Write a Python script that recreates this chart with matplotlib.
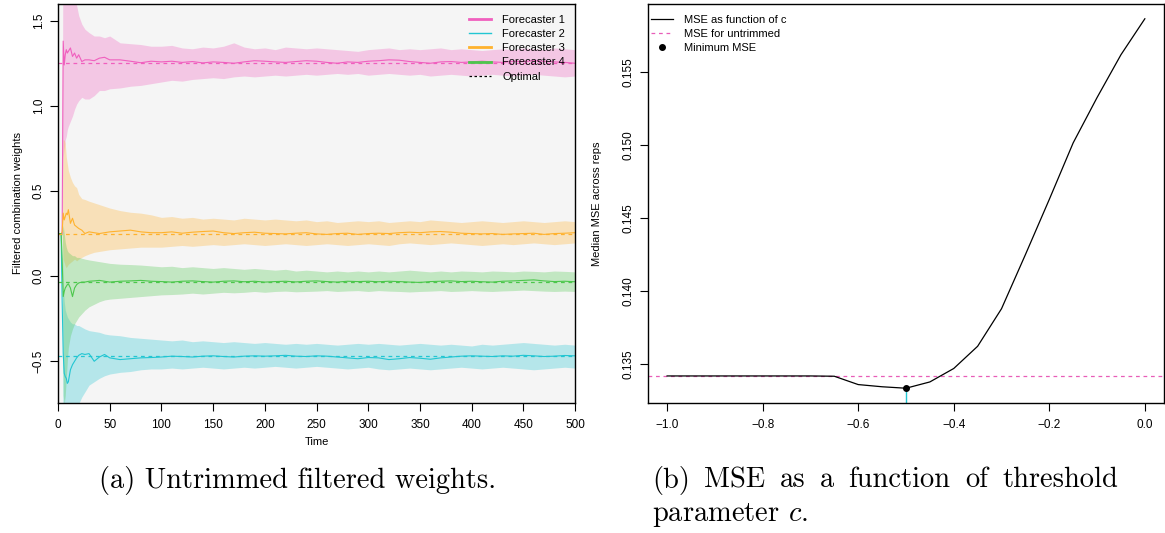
import numpy as np
import matplotlib
matplotlib.use('Agg')
import matplotlib.pyplot as plt
from matplotlib.lines import Line2D

plt.rcParams['font.family'] = ['Liberation Sans', 'DejaVu Sans']
plt.rcParams['mathtext.fontset'] = 'cm'

# ---- panel (a): filtered weights over time ----
time_pts = [1, 3, 4, 5, 6, 7, 8, 9, 10, 12, 14, 16, 18, 20, 23, 26, 30, 35, 40, 45, 50, 60, 70, 80, 90,
            100, 110, 120, 130, 140, 150, 160, 170, 180, 190, 200, 210, 220, 230, 240, 250, 260, 270,
            280, 290, 300, 310, 320, 330, 340, 350, 360, 370, 380, 390, 400, 410, 420, 430, 440, 450,
            460, 470, 480, 490, 500]

f1_mean = [0.25, 0.25, 0.25, 1.38, 1.24, 1.30, 1.33, 1.31, 1.32, 1.34, 1.29, 1.31, 1.28, 1.30, 1.26, 1.27,
           1.27, 1.265, 1.28, 1.285, 1.27, 1.27, 1.262, 1.253, 1.262,
           1.258, 1.262, 1.255, 1.26, 1.252, 1.258, 1.255, 1.25, 1.258, 1.265, 1.262, 1.258, 1.255, 1.26,
           1.265, 1.262, 1.255, 1.25, 1.258, 1.255, 1.262, 1.265, 1.27, 1.268, 1.26, 1.255, 1.25, 1.258,
           1.26, 1.255, 1.258, 1.262, 1.258, 1.255, 1.262, 1.26, 1.265, 1.262, 1.258, 1.255, 1.25]
f1_lo = [0.25, 0.25, 0.25, 0.70, 0.75, 0.80, 0.82, 0.86, 0.88, 0.91, 0.94, 0.98, 1.01, 1.03, 1.05, 1.04,
         1.04, 1.06, 1.09, 1.09, 1.10, 1.105, 1.115, 1.12, 1.13,
         1.14, 1.15, 1.145, 1.155, 1.16, 1.165, 1.16, 1.17, 1.175, 1.17, 1.175, 1.18, 1.175, 1.18, 1.185,
         1.18, 1.185, 1.19, 1.185, 1.19, 1.18, 1.185, 1.19, 1.185, 1.18, 1.185, 1.175, 1.18, 1.185, 1.18,
         1.175, 1.18, 1.185, 1.18, 1.175, 1.18, 1.185, 1.18, 1.175, 1.17, 1.175]
f1_hi = [0.25, 0.25, 0.25, 2.6, 2.4, 2.2, 2.05, 1.95, 1.85, 1.75, 1.68, 1.62, 1.59, 1.53, 1.48, 1.45,
         1.43, 1.41, 1.41, 1.40, 1.41, 1.37, 1.365, 1.36, 1.35,
         1.35, 1.355, 1.34, 1.335, 1.345, 1.34, 1.35, 1.37, 1.345, 1.335, 1.34, 1.33, 1.345, 1.34, 1.335,
         1.34, 1.335, 1.33, 1.325, 1.32, 1.33, 1.335, 1.34, 1.33, 1.335, 1.33, 1.335, 1.34, 1.33, 1.335,
         1.33, 1.325, 1.33, 1.335, 1.33, 1.34, 1.335, 1.33, 1.34, 1.335, 1.33]

f2_mean = [0.25, 0.25, -0.15, -0.45, -0.57, -0.59, -0.60, -0.63, -0.62, -0.55, -0.52, -0.50, -0.48,
           -0.465, -0.455, -0.46, -0.455, -0.50, -0.475, -0.46, -0.48, -0.49, -0.485, -0.48, -0.478,
           -0.475, -0.47, -0.472, -0.475, -0.47, -0.468, -0.472, -0.475, -0.47, -0.468, -0.47, -0.468,
           -0.465, -0.47, -0.472, -0.468, -0.47, -0.475, -0.48, -0.485, -0.478, -0.48, -0.49, -0.485,
           -0.478, -0.482, -0.488, -0.48, -0.475, -0.47, -0.468, -0.47, -0.472, -0.468, -0.47, -0.465,
           -0.468, -0.472, -0.47, -0.466, -0.468]
f2_lo = [0.25, 0.25, 0.24, -1.2, -1.2, -1.1, -1.0, -0.95, -0.9, -0.85, -0.82, -0.80, -0.78, -0.75, -0.71,
         -0.68, -0.64, -0.62, -0.60, -0.585, -0.575, -0.565, -0.56, -0.55, -0.545,
         -0.545, -0.54, -0.545, -0.54, -0.535, -0.54, -0.545, -0.54, -0.535, -0.54, -0.535, -0.53, -0.535,
         -0.54, -0.535, -0.53, -0.535, -0.54, -0.545, -0.54, -0.535, -0.545, -0.55, -0.545, -0.54, -0.545,
         -0.55, -0.545, -0.54, -0.535, -0.54, -0.545, -0.54, -0.535, -0.54, -0.545, -0.55, -0.545, -0.54,
         -0.535, -0.54]
f2_hi = [0.25, 0.25, 0.24, -0.05, -0.15, -0.20, -0.22, -0.24, -0.25, -0.27, -0.28, -0.28, -0.29, -0.29,
         -0.30, -0.31, -0.32, -0.325, -0.33, -0.34, -0.345, -0.35, -0.36, -0.365, -0.37,
         -0.375, -0.38, -0.375, -0.385, -0.38, -0.385, -0.39, -0.385, -0.39, -0.395, -0.39, -0.395, -0.4,
         -0.395, -0.4, -0.395, -0.4, -0.405, -0.4, -0.395, -0.4, -0.395, -0.4, -0.405, -0.4, -0.395, -0.4,
         -0.405, -0.4, -0.405, -0.41, -0.4, -0.405, -0.4, -0.395, -0.39, -0.395, -0.4, -0.405, -0.4, -0.405]

f3_mean = [0.25, 0.25, 0.26, 0.37, 0.33, 0.35, 0.37, 0.36, 0.39, 0.31, 0.34, 0.30, 0.29, 0.28, 0.27, 0.25,
           0.26, 0.255, 0.25, 0.255, 0.26, 0.265, 0.27, 0.26, 0.255,
           0.255, 0.26, 0.252, 0.258, 0.262, 0.265, 0.255, 0.25, 0.255, 0.258, 0.252, 0.25, 0.248, 0.252,
           0.255, 0.248, 0.245, 0.25, 0.252, 0.245, 0.25, 0.252, 0.25, 0.255, 0.258, 0.255, 0.26, 0.262,
           0.258, 0.252, 0.25, 0.248, 0.25, 0.245, 0.248, 0.25, 0.252, 0.245, 0.25, 0.252, 0.255]
f3_lo = [0.25, 0.25, 0.24, 0.10, 0.08, 0.06, 0.05, 0.06, 0.07, 0.08, 0.09, 0.10, 0.09, 0.10, 0.11, 0.12,
         0.13, 0.14, 0.145, 0.15, 0.155, 0.16, 0.165, 0.17, 0.17,
         0.17, 0.175, 0.18, 0.175, 0.18, 0.185, 0.18, 0.185, 0.19, 0.185, 0.18, 0.185, 0.19, 0.185, 0.18,
         0.185, 0.19, 0.185, 0.18, 0.185, 0.19, 0.185, 0.18, 0.19, 0.195, 0.19, 0.185, 0.19, 0.195, 0.19,
         0.185, 0.18, 0.185, 0.19, 0.185, 0.19, 0.195, 0.19, 0.185, 0.19, 0.195]
f3_hi = [0.25, 0.25, 0.26, 0.80, 0.80, 0.78, 0.70, 0.66, 0.62, 0.58, 0.55, 0.53, 0.52, 0.48, 0.455, 0.45,
         0.44, 0.43, 0.42, 0.41, 0.40, 0.385, 0.375, 0.37, 0.36,
         0.345, 0.35, 0.34, 0.345, 0.335, 0.34, 0.335, 0.33, 0.34, 0.335, 0.33, 0.335, 0.33, 0.325, 0.33,
         0.32, 0.325, 0.315, 0.32, 0.325, 0.32, 0.325, 0.315, 0.32, 0.325, 0.32, 0.33, 0.325, 0.32, 0.315,
         0.32, 0.325, 0.32, 0.315, 0.32, 0.325, 0.32, 0.315, 0.32, 0.325, 0.32]

f4_mean = [0.25, 0.25, 0.10, -0.12, -0.09, -0.07, -0.06, -0.05, -0.045, -0.07, -0.12, -0.07, -0.05, -0.04,
           -0.035, -0.035, -0.03, -0.028, -0.025, -0.03, -0.035, -0.03, -0.028, -0.025, -0.03,
           -0.032, -0.035, -0.03, -0.028, -0.032, -0.035, -0.03, -0.028, -0.033, -0.03, -0.035, -0.032,
           -0.03, -0.034, -0.03, -0.028, -0.032, -0.035, -0.03, -0.032, -0.03, -0.033, -0.03, -0.032,
           -0.035, -0.037, -0.032, -0.03, -0.028, -0.032, -0.03, -0.033, -0.035, -0.03, -0.028, -0.025,
           -0.022, -0.028, -0.032, -0.03, -0.033]
f4_lo = [0.25, 0.25, 0.24, -0.70, -0.75, -0.70, -0.60, -0.50, -0.42, -0.35, -0.31, -0.28, -0.26, -0.24,
         -0.22, -0.20, -0.18, -0.165, -0.15, -0.14, -0.135, -0.13, -0.125, -0.12, -0.115,
         -0.11, -0.108, -0.105, -0.10, -0.105, -0.10, -0.095, -0.098, -0.095, -0.09, -0.095, -0.09, -0.088,
         -0.092, -0.09, -0.088, -0.085, -0.09, -0.087, -0.085, -0.09, -0.085, -0.088, -0.09, -0.093, -0.09,
         -0.088, -0.085, -0.09, -0.088, -0.085, -0.088, -0.09, -0.087, -0.085, -0.082, -0.085, -0.088,
         -0.09, -0.088, -0.09]
f4_hi = [0.25, 0.25, 0.25, 0.30, 0.25, 0.20, 0.17, 0.15, 0.14, 0.13, 0.12, 0.12, 0.11, 0.11, 0.105, 0.10,
         0.095, 0.09, 0.085, 0.08, 0.075, 0.07, 0.068, 0.065, 0.06,
         0.055, 0.058, 0.05, 0.055, 0.05, 0.045, 0.05, 0.045, 0.04, 0.045, 0.04, 0.035, 0.04, 0.03, 0.035,
         0.03, 0.025, 0.03, 0.025, 0.03, 0.025, 0.03, 0.025, 0.03, 0.035, 0.03, 0.025, 0.03, 0.025, 0.03,
         0.028, 0.025, 0.03, 0.028, 0.025, 0.03, 0.028, 0.025, 0.03, 0.028, 0.025]

optimal = [1.25, -0.467, 0.25, -0.033]
names = ['Forecaster 1', 'Forecaster 2', 'Forecaster 3', 'Forecaster 4']
colors = ['#F05FBE', '#22C6D2', '#FFB22E', '#4CC74C']

# ---- panel (b): MSE vs threshold c ----
c_vals = [-1.0, -0.95, -0.9, -0.85, -0.8, -0.75, -0.7, -0.65, -0.6, -0.55, -0.5,
          -0.45, -0.4, -0.35, -0.3, -0.25, -0.2, -0.15, -0.1, -0.05, 0.0]
mse_vals = [0.13420, 0.13420, 0.13420, 0.13420, 0.13420, 0.13420, 0.13420, 0.13418, 0.13361, 0.13346,
            0.13336, 0.13379, 0.13471, 0.13623, 0.13880, 0.14250, 0.14628, 0.15015, 0.15325, 0.15618,
            0.15864]
mse_untrimmed = 0.13420

caption_a = '(a) Untrimmed filtered weights.'
caption_b1 = '(b) MSE as a function of threshold'
caption_b2 = 'parameter $c$.'

fig = plt.figure(figsize=(11.65, 5.33), dpi=100)
ax1 = fig.add_axes([0.0498, 0.2439, 0.4438, 0.7486])
ax2 = fig.add_axes([0.5562, 0.2439, 0.4429, 0.7486])

ax1.set_facecolor('#F5F5F5')
t = np.array(time_pts)
means = [f1_mean, f2_mean, f3_mean, f4_mean]
los = [f1_lo, f2_lo, f3_lo, f4_lo]
his = [f1_hi, f2_hi, f3_hi, f4_hi]
for lo, hi, col in zip(los, his, colors):
    ax1.fill_between(t, lo, hi, color=col, alpha=0.3, linewidth=0)
for m, col in zip(means, colors):
    ax1.plot(t, m, color=col, lw=0.8)
for opt, col in zip(optimal, colors):
    ax1.axhline(opt, color=col, lw=0.9, ls=(0, (3, 3)))

ax1.set_xlim(0, 500)
ax1.set_ylim(-0.745, 1.598)
ax1.set_xticks([0, 50, 100, 150, 200, 250, 300, 350, 400, 450, 500])
ax1.set_yticks([-0.5, 0.0, 0.5, 1.0, 1.5])
ax1.set_yticklabels(['\u22120.5', '0.0', '0.5', '1.0', '1.5'])
ax1.set_xlabel('Time', fontsize=8, labelpad=4)
ax1.set_ylabel('Filtered combination weights', fontsize=8, labelpad=7)

handles = [Line2D([], [], color=colors[0], lw=2),
           Line2D([], [], color=colors[1], lw=1),
           Line2D([], [], color=colors[2], lw=2),
           Line2D([], [], color=colors[3], lw=2),
           Line2D([], [], color='black', lw=0.9, ls=(0, (2, 2)))]
ax1.legend(handles, names + ['Optimal'], loc='upper left', bbox_to_anchor=(0.795, 0.973),
           frameon=False, fontsize=8, handlelength=2.0, handletextpad=1.0, labelspacing=0.38,
           borderpad=0, borderaxespad=0)

ax2.plot(c_vals, mse_vals, color='black', lw=0.9, zorder=3)
ax2.axhline(mse_untrimmed, color='#E85DB8', lw=0.9, ls=(0, (3, 3)))
i_min = int(np.argmin(mse_vals))
ax2.plot([c_vals[i_min], c_vals[i_min]], [0.1, mse_vals[i_min]], color='#22C6D2', lw=1.0, zorder=2)
ax2.plot(c_vals[i_min], mse_vals[i_min], 'o', color='black', ms=4, zorder=4)
span_x = max(c_vals) - min(c_vals)
span_y = max(mse_vals) - min(mse_vals)
ax2.set_xlim(min(c_vals) - 0.04 * span_x, max(c_vals) + 0.04 * span_x)
ax2.set_ylim(min(mse_vals) - 0.04 * span_y, max(mse_vals) + 0.04 * span_y)
ax2.set_xticks([-1.0, -0.8, -0.6, -0.4, -0.2, 0.0])
ax2.set_xticklabels(['\u22121.0', '\u22120.8', '\u22120.6', '\u22120.4', '\u22120.2', '0.0'])
ax2.set_yticks([0.135, 0.140, 0.145, 0.150, 0.155])
ax2.set_yticklabels(['0.135', '0.140', '0.145', '0.150', '0.155'])
ax2.set_ylabel('Median MSE across reps', fontsize=8, labelpad=15)

h2 = [Line2D([], [], color='black', lw=0.9),
      Line2D([], [], color='#E85DB8', lw=0.9, ls=(0, (3, 3))),
      Line2D([], [], color='black', marker='o', ms=4, ls='none')]
ax2.legend(h2, ['MSE as function of c', 'MSE for untrimmed', 'Minimum MSE'], loc='upper left',
           bbox_to_anchor=(0.005, 0.973), frameon=False, fontsize=8, handlelength=2.0,
           handletextpad=1.0, labelspacing=0.38, borderpad=0, borderaxespad=0)

for ax in (ax1, ax2):
    for s in ax.spines.values():
        s.set_linewidth(1.0)
        s.set_color('black')
    ax.tick_params(direction='out', length=5.5, width=0.8, labelsize=8.5, pad=4)
    ax.tick_params(axis='x', pad=6)
    for lab in ax.get_yticklabels():
        lab.set_rotation(90)
        lab.set_va('center')

cap_size = 20.5
fig.text(0.255, 0.099, caption_a, family='cmr10', fontsize=cap_size, ha='center', va='center')

# first line of caption (b) is justified between the left and right margins, like LaTeX does
words = caption_b1.split()
left_px, right_px = 652, 1118
word_txt = [fig.text(0, 0.099, w, family='cmr10', fontsize=cap_size, ha='left', va='center')
            for w in words]
renderer = fig.canvas.get_renderer()
widths = [wt.get_window_extent(renderer).width for wt in word_txt]
gap = (right_px - left_px - sum(widths)) / (len(words) - 1)
x = left_px
for wt, w in zip(word_txt, widths):
    wt.set_x(x / fig.bbox.width)
    x += w + gap
fig.text(left_px / fig.bbox.width, 0.033, caption_b2, family='cmr10', fontsize=cap_size,
         ha='left', va='center')

fig.savefig('out.png', dpi=100)
